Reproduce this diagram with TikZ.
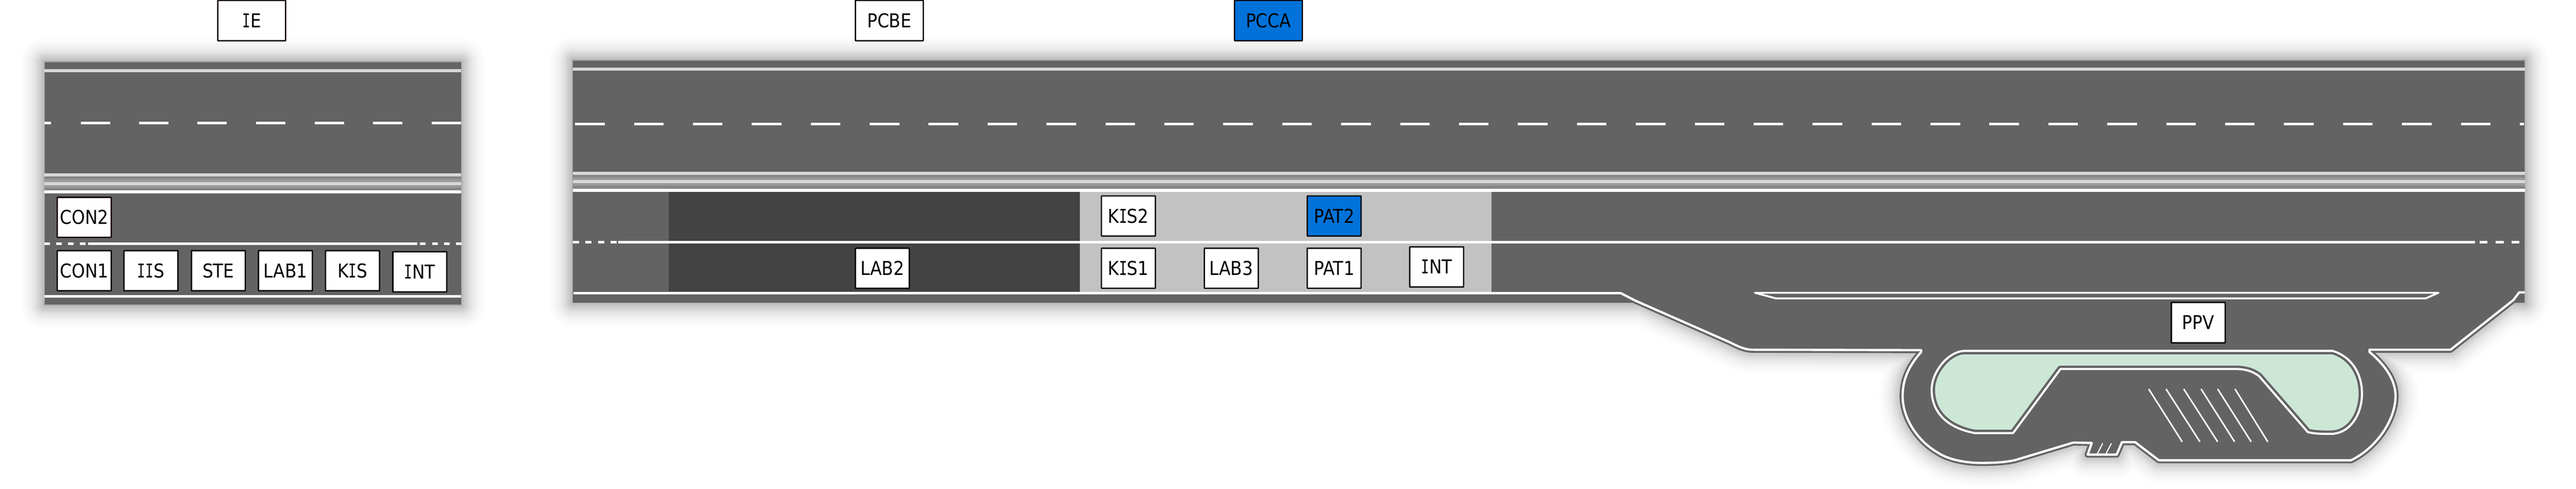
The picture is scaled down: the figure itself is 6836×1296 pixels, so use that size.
\documentclass[tikz,border=0pt]{standalone}
\usepackage{fontspec}
\setmainfont[FakeStretch=0.885]{DejaVu Sans}
\newfontfamily\serifIfam[FakeStretch=0.7]{DejaVu Sans Mono}
\newcommand{\SI}{{\serifIfam I}}
\definecolor{road}{HTML}{636363}
\definecolor{rim}{HTML}{9A9A9A}
\definecolor{bandA}{HTML}{D8D8D8}
\definecolor{bandB}{HTML}{868686}
\definecolor{bandC}{HTML}{9A9A9A}
\definecolor{darkzone}{HTML}{434343}
\definecolor{lightzone}{HTML}{C2C2C2}
\definecolor{isle}{HTML}{CDE7D7}
\definecolor{marked}{HTML}{0072D9}
\definecolor{darkedge}{HTML}{120004}
\tikzset{
  x=0.01cm,y=-0.01cm,
  px/.style={line width=#1*0.01cm},
  wline/.style={draw=white,px=6},
  wthin/.style={draw=white,px=4},
  glow/.style={draw=black,opacity=0.0125,line join=round,px=#1},
  lane/.style={draw=bandA,px=8},
  lbl/.style={draw=black,fill=white,px=3.5,rounded corners=0.01cm,inner sep=0pt,
    minimum width=1.43cm,minimum height=1.06cm,text=black,
    font=\fontsize{14.4}{16}\selectfont},
  toplbl/.style={lbl,minimum width=1.80cm,minimum height=1.07cm},
  dk/.style={draw=darkedge},
  hot/.style={fill=marked},
}
\def\Wpath{(1500,777) -- (4301,777) -- (4340,797) -- (4590,907)
  .. controls (4610,917) and (4630,927) .. (4650,927) -- (5098,928)
  -- (5098,933) .. controls (5070,965) and (5049,1000) .. (5049,1050)
  .. controls (5049,1110) and (5090,1170) .. (5143,1200)
  .. controls (5170,1218) and (5215,1227) .. (5258,1227)
  .. controls (5300,1227) and (5335,1224) .. (5356,1217)
  -- (5502,1173) -- (5551,1174) -- (5540,1205) -- (5617,1205) -- (5631,1172)
  -- (5666,1172) -- (5729,1220) -- (6239,1220)
  .. controls (6310,1185) and (6357,1110) .. (6357,1050)
  .. controls (6357,1000) and (6320,960) .. (6288,933)
  -- (6288,927) -- (6503,927) -- (6670,795) -- (6685,775) -- (6720,775)}
\def\Spath{(1520,160) -- (6700,160) -- (6700,803) -- (6673,803) -- (6670,795) -- (6503,927) -- (6288,927) -- (6288,933)
  .. controls (6320,960) and (6357,1000) .. (6357,1050)
  .. controls (6357,1110) and (6310,1185) .. (6239,1220)
  -- (5729,1220) -- (5666,1172) -- (5631,1172) -- (5617,1205) -- (5540,1205) -- (5551,1174) -- (5502,1173)
  -- (5356,1217) .. controls (5335,1224) and (5300,1227) .. (5258,1227)
  .. controls (5215,1227) and (5170,1218) .. (5143,1200)
  .. controls (5090,1170) and (5049,1110) .. (5049,1050)
  .. controls (5049,1000) and (5070,965) .. (5098,933) -- (5098,928) -- (4650,927)
  .. controls (4630,927) and (4610,917) .. (4590,907) -- (4340,797) -- (4340,803) -- (1520,803) -- cycle}
\def\Ipath{(5212,930) -- (6190,930)
  .. controls (6240,945) and (6268,990) .. (6268,1043)
  .. controls (6268,1100) and (6235,1150) .. (6185,1150)
  .. controls (6165,1150) and (6140,1150) .. (6124,1145)
  -- (5995,997) .. controls (5975,982) and (5955,978) .. (5930,978)
  -- (5468,978) -- (5342,1148) -- (5241,1148)
  .. controls (5170,1135) and (5126,1095) .. (5126,1033)
  .. controls (5126,985) and (5170,932) .. (5212,930) -- cycle}
\begin{document}
\begin{tikzpicture}
\useasboundingbox (0,0) rectangle (6836,1296);
% soft shadows
\foreach \d in {2,4,6,8,10,12,14,16,18,20,23,26,29,32,35,38,42,46,50,55,60,66,72,80,88,98,110,125}{
  \draw[glow=\d] (118,164) rectangle (1224,808);
  \draw[glow=\d] \Spath;
}
% left road
\fill[road] (118,164) rectangle (1224,808);
\draw[draw=rim,px=1.5] (118,164) rectangle (1224,808);
\fill[bandB] (118,460) rectangle (1224,505);
\fill[bandC] (118,474) rectangle (1224,497);
\fill[bandA] (118,460) rectangle (1224,467);
\fill[bandA] (118,482) rectangle (1224,491);
\fill[white] (118,505) rectangle (1224,512);
\draw[lane] (118,187) -- (1224,187);
\draw[wline] (118,785.5) -- (1224,785.5);
\draw[wline,px=7] (118,326) -- (136,326);
\foreach \x in {214,369,524,680,835,990,1146}{\draw[wline,px=7] (\x,326) -- ++(78,0);}
\foreach \x in {118,149,180,212,1114,1147,1179,1210}{\draw[wline] (\x,646) -- ++(15,0);}
\draw[wline] (234,646) -- (1107,646);
% right road
\fill[road] (1520,160) rectangle (6700,455);
\begin{scope}
  \clip (1520,490) rectangle (6700,1296);
  \fill[road] \Wpath -- (6720,500) -- (1500,500) -- cycle;
  \draw[road,px=16,line join=round] \Wpath;
  \fill[road] (1520,500) rectangle (4340,803);
  \fill[road] (6673,700) rectangle (6700,803);
\end{scope}
\draw[draw=rim,px=1.5] (1520,803) -- (1520,160) -- (6700,160) -- (6700,803);
\fill[darkzone] (1775,508) rectangle (2866,773);
\fill[lightzone] (2866,508) rectangle (3958,775);
\fill[bandB] (1520,455) rectangle (6700,500);
\fill[bandC] (1520,470) rectangle (6700,492);
\fill[bandA] (1520,455) rectangle (6700,463);
\fill[bandA] (1520,477) rectangle (6700,486);
\fill[white] (1520,500) rectangle (6700,508);
\draw[lane] (1520,183) -- (6700,183);
\foreach \k in {0,...,32}{\draw[wline,px=7] ({1526+\k*156.39},328.5) -- ++(78.5,0);}
\draw[wline,px=7] (6687,328.5) -- (6698,328.5);
\foreach \x in {1520,1553,1587,1620}{\draw[wline] (\x,642) -- ++(17,0);}
\draw[wline] (1641,642) -- (6568,642);
\foreach \x in {6580,6623,6665}{\draw[wline] (\x,642) -- ++(21,0);}
% outer kerb line
\begin{scope}
  \clip (1522,700) rectangle (6700,1296);
  \draw[wline,line join=round] \Wpath;
\end{scope}
% strip
\draw[wline,px=5,line join=round,line cap=round] (6437,791) -- (4713,791) -- (4657,776) -- (6471,776) -- cycle;
% green island
\fill[isle] \Ipath;
\draw[road,px=18,line join=round] \Ipath;
\draw[wline,px=5.5,line join=round] \Ipath;
% hatching
\draw[wthin] (5702,1031) -- (5791,1171);
\draw[wthin] (5748,1031) -- (5838,1171);
\draw[wthin] (5795,1031) -- (5885,1171);
\draw[wthin] (5841,1031) -- (5930,1171);
\draw[wthin] (5885,1031) -- (5974,1171);
\draw[wthin] (5931,1031) -- (6018,1171);
\draw[wthin,px=3] (5580,1175) -- (5565,1204);
\draw[wthin,px=3] (5603,1175) -- (5588,1204);
% labels
\node[toplbl,dk] (ie) at (668,54.5) {\SI E};
\node[toplbl] (pcbe) at (2360,54.5) {PCBE};
\node[toplbl,dk,hot] (pcca) at (3366,54.5) {PCCA};
\node[lbl,dk] (con2) at (223.5,576) {CON2};
\node[lbl] (con1) at (223.5,717.5) {CON1};
\node[lbl] (iis) at (400.5,717.5) {\SI\SI S};
\node[lbl] (ste) at (579.5,717.5) {STE};
\node[lbl] (lab1) at (757.5,717.5) {LAB1};
\node[lbl] (kis) at (935.5,717.5) {K\SI S};
\node[lbl] (int) at (1114,720.5) {\SI NT};
\node[lbl] (lab2) at (2341.5,711) {LAB2};
\node[lbl] (kis2) at (2994.5,572.5) {K\SI S2};
\node[lbl] (kis1) at (2994.5,711) {K\SI S1};
\node[lbl] (lab3) at (3267.5,711) {LAB3};
\node[lbl,hot] (pat2) at (3540.5,572.5) {PAT2};
\node[lbl] (pat1) at (3540.5,711) {PAT1};
\node[lbl] (int2) at (3812.5,707.5) {\SI NT};
\node[lbl,minimum height=1.07cm] (ppv) at (5833.5,855) {PPV};
\end{tikzpicture}
\end{document}
